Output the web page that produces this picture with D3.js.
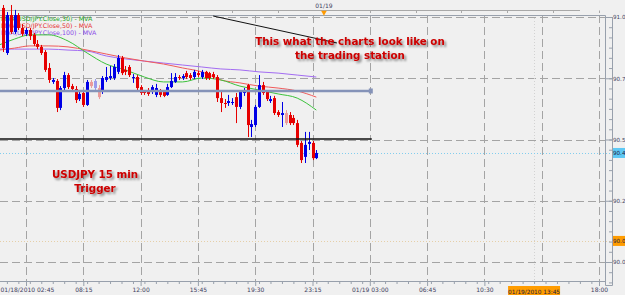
<!DOCTYPE html>
<html>
<head>
<meta charset="utf-8">
<script src="https://cdn.jsdelivr.net/npm/d3@7"></script>
<style>
  body { margin: 0; background: #f0f0f0; overflow: hidden; }
  svg { display: block; }
  text { font-family: "DejaVu Sans", sans-serif; }
</style>
</head>
<body>
<div id="chart"></div>
<script>
////////////////////////////////////////////////////////////////////////
// Values
// bar index 0 is the 01/18/2010 02:45 bar, bars are 15 minutes apart

let firstBar = -6;

let opens = [91.037, 90.853, 91.008, 90.939, 91.008, 90.955, 90.931, 90.947, 90.927, 90.890,
  90.878, 90.857, 90.792, 90.735, 90.739, 90.629, 90.710, 90.763, 90.718, 90.706,
  90.665, 90.690, 90.641, 90.735, 90.710, 90.710, 90.694, 90.743, 90.751, 90.751,
  90.776, 90.833, 90.784, 90.796, 90.751, 90.755, 90.714, 90.694, 90.698, 90.694,
  90.682, 90.698, 90.694, 90.682, 90.714, 90.735, 90.755, 90.751, 90.771, 90.763,
  90.755, 90.771, 90.755, 90.776, 90.771, 90.767, 90.755, 90.669, 90.649, 90.649,
  90.649, 90.673, 90.633, 90.690, 90.722, 90.551, 90.559, 90.633, 90.722, 90.694,
  90.657, 90.669, 90.612, 90.600, 90.608, 90.600, 90.588, 90.567, 90.486, 90.429,
  90.482, 90.486, 90.424];

let highs = [91.049, 91.020, 91.049, 91.029, 91.016, 90.971, 90.955, 90.955, 90.935, 90.906,
  90.886, 90.865, 90.812, 90.751, 90.747, 90.718, 90.776, 90.771, 90.727, 90.718,
  90.702, 90.702, 90.743, 90.743, 90.747, 90.722, 90.759, 90.796, 90.800, 90.808,
  90.845, 90.841, 90.800, 90.804, 90.767, 90.763, 90.722, 90.702, 90.710, 90.722,
  90.727, 90.706, 90.702, 90.727, 90.771, 90.771, 90.763, 90.767, 90.780, 90.771,
  90.784, 90.780, 90.784, 90.780, 90.776, 90.776, 90.763, 90.694, 90.665, 90.682,
  90.669, 90.690, 90.702, 90.710, 90.727, 90.580, 90.641, 90.763, 90.735, 90.702,
  90.678, 90.678, 90.620, 90.653, 90.620, 90.612, 90.600, 90.580, 90.494, 90.531,
  90.531, 90.494, 90.457];

let lows = [90.857, 90.845, 90.931, 90.931, 90.947, 90.922, 90.922, 90.906, 90.882, 90.869,
  90.845, 90.776, 90.731, 90.727, 90.612, 90.620, 90.702, 90.706, 90.694, 90.649,
  90.657, 90.633, 90.637, 90.710, 90.702, 90.665, 90.686, 90.735, 90.743, 90.743,
  90.767, 90.763, 90.763, 90.755, 90.731, 90.702, 90.682, 90.682, 90.678, 90.686,
  90.673, 90.673, 90.673, 90.678, 90.710, 90.731, 90.743, 90.743, 90.747, 90.743,
  90.747, 90.755, 90.747, 90.743, 90.743, 90.747, 90.653, 90.612, 90.629, 90.637,
  90.641, 90.567, 90.624, 90.678, 90.510, 90.510, 90.551, 90.629, 90.682, 90.657,
  90.649, 90.600, 90.592, 90.551, 90.559, 90.559, 90.559, 90.469, 90.404, 90.404,
  90.457, 90.416, 90.420];

let closes = [90.873, 91.008, 90.939, 91.008, 90.955, 90.931, 90.947, 90.922, 90.890, 90.878,
  90.853, 90.784, 90.743, 90.743, 90.629, 90.710, 90.763, 90.714, 90.706, 90.661,
  90.686, 90.641, 90.735, 90.718, 90.739, 90.673, 90.751, 90.755, 90.759, 90.796,
  90.833, 90.771, 90.776, 90.763, 90.755, 90.710, 90.690, 90.690, 90.686, 90.714,
  90.710, 90.682, 90.678, 90.714, 90.739, 90.755, 90.751, 90.759, 90.755, 90.751,
  90.776, 90.763, 90.776, 90.751, 90.751, 90.755, 90.669, 90.649, 90.645, 90.657,
  90.653, 90.633, 90.694, 90.702, 90.559, 90.563, 90.633, 90.722, 90.690, 90.665,
  90.665, 90.608, 90.600, 90.608, 90.567, 90.567, 90.567, 90.478, 90.416, 90.478,
  90.490, 90.424, 90.445];

// pale looking bars in the screenshot
let fadedBars = [17, 18, 19, 68];

// moving averages, sampled every few bars
let maBars = [-7, -3, 1, 6, 11, 16, 21, 26, 31, 36, 41, 46, 51, 56, 61, 66, 71, 76];
let ma30 = [90.886, 90.910, 90.927, 90.927, 90.902, 90.853, 90.808, 90.784, 90.755,
  90.735, 90.735, 90.751, 90.743, 90.718, 90.702, 90.686, 90.669, 90.620];
let ma50 = [90.865, 90.873, 90.882, 90.882, 90.878, 90.865, 90.849, 90.833, 90.820,
  90.808, 90.792, 90.776, 90.743, 90.731, 90.718, 90.710, 90.698, 90.673];
let ma100 = [90.869, 90.869, 90.869, 90.869, 90.865, 90.861, 90.841, 90.829, 90.820,
  90.812, 90.804, 90.796, 90.788, 90.784, 90.776, 90.771, 90.763, 90.755];
let legendLabels = ["MVA(USD/JPY.Close,30) - MVA", "MVA(USD/JPY.Close,50) - MVA", "MVA(USD/JPY.Close,100) - MVA"];

// axis ticks (the 14:15 label sits under the orange time box, so it is left out)
let priceTicks = [91.0, 90.75, 90.5, 90.25, 90.0];
let timeBars = [0, 15, 30, 45, 60, 75, 90, 105, 120, 150];
let timeLabels = ["01/18/2010 02:45", "08:15", "12:00", "15:45", "19:30", "23:15",
  "01/19 03:00", "06:45", "10:30", "18:00"];

// drawn lines
let slateLevel = 90.698;
let blackLevel = 90.502;
let lineEndBar = 90;
let trendBars = [49, 81.4];
let trendPrices = [91.004, 90.894];
let lastPrice = 90.445;
let crossPrice = 90.086;
let crossBar = 133;
let dayBar = 78;

////////////////////////////////////////////////////////////////////////
// Scales

let width = 625;
let height = 295;
let plotRight = 605;
let plotTop = 15;
let plotBottom = 281;

let x = d3.scaleLinear().domain([0, 150]).range([26, 599]);
let y = d3.scaleLinear().domain([90, 91]).range([262, 17]);

// the station only has room for 4 characters on the price scale
let shortPrice = d => (Math.floor(d * 10 + 1e-6) / 10).toFixed(1);

let svg = d3.select("#chart")
  .append("svg")
  .attr("width", width).attr("height", height);

svg.append("rect")
  .attr("width", width).attr("height", height)
  .attr("fill", "#f0f0f0");

let filter = svg.append("defs").append("filter")
  .attr("id", "shadow")
  .attr("x", "-10%").attr("y", "-30%")
  .attr("width", "130%").attr("height", "170%");
filter.append("feDropShadow")
  .attr("dx", 2).attr("dy", 2)
  .attr("stdDeviation", 1)
  .attr("flood-color", "#000")
  .attr("flood-opacity", 0.45);

////////////////////////////////////////////////////////////////////////
// Gridlines and frame

let grid = svg.append("g")
  .attr("stroke", "#a4a4a4")
  .attr("stroke-dasharray", "8,4");

grid.selectAll("line.v")
  .data(d3.range(0, 151, 15))
  .enter()
  .append("line")
  .attr("x1", d => Math.round(x(d)) + 0.5)
  .attr("x2", d => Math.round(x(d)) + 0.5)
  .attr("y1", plotTop)
  .attr("y2", plotBottom);

grid.selectAll("line.h")
  .data(priceTicks)
  .enter()
  .append("line")
  .attr("x1", 0)
  .attr("x2", plotRight)
  .attr("y1", d => Math.round(y(d)) + 0.5)
  .attr("y2", d => Math.round(y(d)) + 0.5);

// faint crosshair
svg.append("line")
  .attr("x1", Math.round(x(crossBar)) + 0.5).attr("x2", Math.round(x(crossBar)) + 0.5)
  .attr("y1", plotTop).attr("y2", plotBottom)
  .attr("stroke", "#d2d2d2")
  .attr("stroke-dasharray", "1,2");
svg.append("line")
  .attr("x1", 0).attr("x2", 612)
  .attr("y1", Math.round(y(crossPrice)) + 0.5).attr("y2", Math.round(y(crossPrice)) + 0.5)
  .attr("stroke", "#e6cfa8")
  .attr("stroke-dasharray", "1,2");

// frame
svg.append("path")
  .attr("d", `M0,${plotTop + 0.5} H${plotRight + 0.5} V${plotBottom + 0.5} H0`)
  .attr("fill", "none")
  .attr("stroke", "#98a0ac");
svg.append("path")
  .attr("d", `M612.5,${plotTop + 2} V285.5 H${plotRight + 0.5} V${plotBottom}`)
  .attr("fill", "none")
  .attr("stroke", "#98a0ac");

// top time strip
svg.append("line")
  .attr("x1", 0).attr("x2", 580)
  .attr("y1", 10.5).attr("y2", 10.5)
  .attr("stroke", "#a8a8a8");
svg.append("g")
  .selectAll("line")
  .data(d3.range(6, 151, 12))
  .enter()
  .append("line")
  .attr("x1", d => Math.round(x(d)) + 0.5)
  .attr("x2", d => Math.round(x(d)) + 0.5)
  .attr("y1", 10.5).attr("y2", 13)
  .attr("stroke", "#a8a8a8");
svg.append("text")
  .attr("x", x(dayBar)).attr("y", 7.5)
  .attr("text-anchor", "middle")
  .attr("font-size", 6)
  .attr("fill", "#404060")
  .text("01/19");
svg.append("path")
  .attr("d", d3.symbol(d3.symbolTriangle, 14)())
  .attr("transform", `translate(${x(dayBar)}, 12.5) rotate(180)`)
  .attr("fill", "#ff9a00");

////////////////////////////////////////////////////////////////////////
// Axes

let xAxis = svg.append("g")
  .attr("transform", `translate(0, ${plotBottom})`)
  .call(d3.axisBottom(x)
    .tickValues(timeBars)
    .tickFormat((d, i) => timeLabels[i])
    .tickSize(5)
    .tickPadding(2));
let xMinor = svg.append("g")
  .attr("transform", `translate(0, ${plotBottom})`)
  .call(d3.axisBottom(x)
    .tickValues(d3.range(-5, 151, 3))
    .tickFormat("")
    .tickSize(3));

let yAxis = svg.append("g")
  .attr("transform", `translate(${plotRight}, 0)`)
  .call(d3.axisRight(y)
    .tickValues(priceTicks)
    .tickFormat(shortPrice)
    .tickSize(7)
    .tickPadding(1));
let yMinor = svg.append("g")
  .attr("transform", "translate(612, 0)")
  .call(d3.axisLeft(y)
    .tickValues(d3.range(-2, 25).map(i => 90 + i / 24))
    .tickFormat("")
    .tickSize(3));

[xAxis, xMinor, yAxis, yMinor].forEach(a => {
  a.select(".domain").remove();
  a.selectAll("line").attr("stroke", "#98a0ac");
  a.selectAll("text")
    .attr("font-family", "DejaVu Sans")
    .attr("font-size", 6)
    .attr("fill", "#404060");
});
yAxis.selectAll("text").attr("font-size", 5.6);

// first time label hangs off the left edge in the screenshot; keep it whole
xAxis.selectAll(".tick text")
  .filter((d, i) => i === 0)
  .attr("text-anchor", "start")
  .attr("x", -26);

// price boxes on the right axis
function priceBox(value, color) {
  svg.append("rect")
    .attr("x", 613).attr("y", y(value) - 5)
    .attr("width", 14).attr("height", 10)
    .attr("fill", color);
  svg.append("text")
    .attr("x", 613).attr("y", y(value))
    .attr("dy", "0.35em")
    .attr("font-size", 5.6)
    .attr("fill", "#202040")
    .text(shortPrice(value));
}

// last price line
svg.append("line")
  .attr("x1", 0).attr("x2", 612)
  .attr("y1", Math.round(y(lastPrice)) + 0.5).attr("y2", Math.round(y(lastPrice)) + 0.5)
  .attr("stroke", "#82cdee")
  .attr("stroke-dasharray", "1,2");

priceBox(lastPrice, "#5ec8f4");
priceBox(crossPrice, "#ff9c00");

// time box on the bottom axis
svg.append("rect")
  .attr("x", x(crossBar) - 26).attr("y", 286)
  .attr("width", 52).attr("height", 10)
  .attr("fill", "#ff9c00");
svg.append("text")
  .attr("x", x(crossBar)).attr("y", 293.5)
  .attr("text-anchor", "middle")
  .attr("font-size", 5.8)
  .attr("fill", "#202040")
  .text("01/19/2010 13:45");

////////////////////////////////////////////////////////////////////////
// Legend, moving averages and candles

let maColors = ["#3cc23c", "#f05a5a", "#a36cf2"];
let legendColors = ["#22a822", "#e43030", "#8a48e8"];

svg.append("g")
  .selectAll("text")
  .data(legendLabels)
  .enter()
  .append("text")
  .attr("x", 1)
  .attr("y", (d, i) => 21 + i * 6.8)
  .attr("font-size", 6.3)
  .attr("fill", (d, i) => legendColors[i])
  .text(d => d);

let maLine = d3.line()
  .x(d => x(d[0]))
  .y(d => y(d[1]))
  .curve(d3.curveMonotoneX);

[ma100, ma50, ma30].forEach((values, i) => {
  svg.append("path")
    .datum(d3.zip(maBars, values))
    .attr("d", maLine)
    .attr("fill", "none")
    .attr("stroke", maColors[2 - i])
    .attr("stroke-width", 1);
});

let bars = d3.range(opens.length).map(i => ({
  bar: firstBar + i,
  open: opens[i],
  high: highs[i],
  low: lows[i],
  close: closes[i]
}));

let candles = svg.append("g")
  .selectAll("g")
  .data(bars)
  .enter()
  .append("g")
  .attr("opacity", d => fadedBars.includes(d.bar) ? 0.35 : 1)
  .attr("fill", d => d.close >= d.open ? "#0000e6" : "#e60000")
  .attr("stroke", d => d.close >= d.open ? "#0000e6" : "#e60000");

candles.append("line")
  .attr("x1", d => Math.round(x(d.bar)) + 0.5)
  .attr("x2", d => Math.round(x(d.bar)) + 0.5)
  .attr("y1", d => y(d.high))
  .attr("y2", d => y(d.low));

candles.append("rect")
  .attr("stroke", "none")
  .attr("x", d => Math.round(x(d.bar)) - 1)
  .attr("width", 3)
  .attr("y", d => y(Math.max(d.open, d.close)))
  .attr("height", d => Math.max(1, Math.abs(y(d.open) - y(d.close))));

////////////////////////////////////////////////////////////////////////
// Drawn lines

svg.append("line")
  .attr("x1", 0).attr("x2", x(lineEndBar))
  .attr("y1", y(slateLevel)).attr("y2", y(slateLevel))
  .attr("stroke", "#8593b8")
  .attr("stroke-width", 2.5);
svg.append("rect")
  .attr("x", x(lineEndBar) - 1).attr("y", y(slateLevel) - 2.5)
  .attr("width", 4).attr("height", 5)
  .attr("fill", "#8593b8");

svg.append("line")
  .attr("x1", 0).attr("x2", x(lineEndBar) + 2)
  .attr("y1", y(blackLevel)).attr("y2", y(blackLevel))
  .attr("stroke", "#111")
  .attr("stroke-width", 1.6);

svg.append("line")
  .attr("x1", x(trendBars[0])).attr("y1", y(trendPrices[0]))
  .attr("x2", x(trendBars[1])).attr("y2", y(trendPrices[1]))
  .attr("stroke", "#111")
  .attr("stroke-width", 1);

////////////////////////////////////////////////////////////////////////
// Notes written on the chart

function note(lines, cx, y0, step) {
  svg.append("g")
    .attr("filter", "url(#shadow)")
    .selectAll("text")
    .data(lines)
    .enter()
    .append("text")
    .attr("x", cx)
    .attr("y", (d, i) => y0 + i * step)
    .attr("text-anchor", "middle")
    .attr("font-family", "Liberation Sans, Arial, sans-serif")
    .attr("font-weight", "bold")
    .attr("font-size", 10.3)
    .attr("fill", "#cc0000")
    .text(d => d);
}

note(["This what the charts look like on", "the trading station"], 350, 45, 13.8);
note(["USDJPY 15 min", "Trigger"], 95, 177.5, 14.5);
</script>
</body>
</html>
